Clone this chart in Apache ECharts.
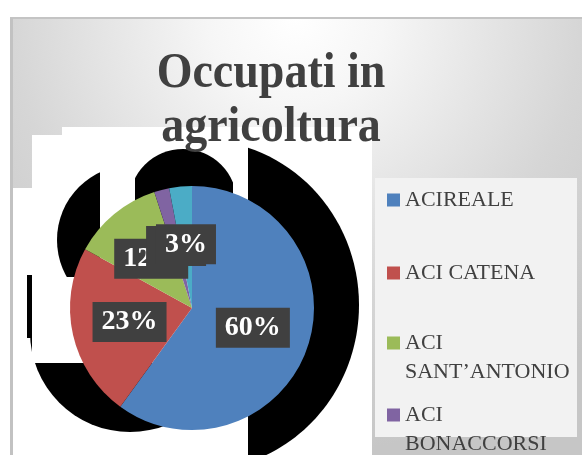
<!DOCTYPE html>
<html>
<head>
<meta charset="utf-8">
<script src="https://cdn.jsdelivr.net/npm/echarts@6/dist/echarts.min.js"></script>
<style>
  html, body { margin: 0; padding: 0; background: #fff; }
  #main { width: 582px; height: 455px; }
</style>
</head>
<body>
<div id="main"></div>
<script>
const categories = ['ACIREALE', 'ACI CATENA', 'ACI SANT’ANTONIO', 'ACI BONACCORSI', 'ACI CASTELLO'];
const shares = [60, 23, 12, 2, 3];
const colors = ['#4f81bd', '#c0504d', '#9bbb59', '#8064a2', '#4bacc6'];
// only the first four legend rows fit in the box
const legendNames = categories.slice(0, 4);
const legendTops = [185.5, 258.5, 299.5, 371.5];

const serif = 'Liberation Serif';

function rect(x, y, w, h, fill) {
  return { type: 'rect', silent: true, shape: { x: x, y: y, width: w, height: h }, style: { fill: fill } };
}
function circle(cx, cy, r) {
  return { type: 'circle', silent: true, shape: { cx: cx, cy: cy, r: r }, style: { fill: '#000' } };
}

var chartDom = document.getElementById('main');
var myChart = echarts.init(chartDom);

// long names wrap after the first word; a blank first line keeps the icon on "ACI"
var legends = legendNames.map(function (name, i) {
  return {
    data: [name],
    left: 387,
    top: legendTops[i],
    padding: 0,
    icon: 'rect',
    itemWidth: 13,
    itemHeight: 13,
    selectedMode: false,
    formatter: function (n) { return n.length > 12 ? '\u00a0\n' + n.replace(' ', '\n') : n; },
    textStyle: {
      fontFamily: serif,
      fontSize: 22,
      color: '#404040',
      lineHeight: 29
    }
  };
});

var option = {
  animation: false,
  color: colors,
  legend: legends,
  graphic: {
    elements: [
      {
        type: 'rect', silent: true,
        shape: { x: 10, y: 18, width: 572, height: 437 },
        style: {
          fill: new echarts.graphic.RadialGradient(0.5, 0, 1, [
            { offset: 0, color: '#ffffff' },
            { offset: 0.2, color: '#f6f6f6' },
            { offset: 0.65, color: '#d6d6d6' },
            { offset: 1, color: '#c6c6c6' }
          ])
        }
      },
      rect(10, 17, 572, 2, '#c4c4c4'),
      rect(10, 18, 3, 437, '#c2c2c2'),
      {
        type: 'polygon', silent: true,
        shape: { points: [[62, 127], [372, 127], [372, 455], [13, 455], [13, 188], [32, 188], [32, 135], [62, 135]] },
        style: { fill: '#fff' }
      },
      // broken black shadow behind the pie
      { type: 'ellipse', silent: true, shape: { cx: 200, cy: 305, rx: 159, ry: 165 }, style: { fill: '#000' } },
      rect(32, 135, 216, 320, '#fff'),
      circle(130, 332, 100),
      rect(32, 135, 216, 228, '#fff'),
      circle(132, 240, 75),
      rect(100, 135, 148, 228, '#fff'),
      rect(32, 277, 68, 86, '#fff'),
      circle(183, 203, 54),
      rect(100, 135, 35, 125, '#fff'),
      rect(233, 135, 15, 125, '#fff'),
      rect(27, 275, 5, 63, '#000'),
      // legend box
      rect(375, 178, 202, 259, '#f2f2f2'),
      {
        type: 'text', silent: true, z: 10,
        x: 271, y: 47, scaleY: 1.1,
        style: {
          text: 'Occupati in\nagricoltura',
          fontFamily: serif,
          fontWeight: 'bold',
          fontSize: 46,
          lineHeight: 49,
          fill: '#404040',
          align: 'center',
          verticalAlign: 'top'
        }
      }
    ]
  },
  series: [
    {
      type: 'pie',
      center: [192, 308],
      radius: 122,
      startAngle: 90,
      clockwise: true,
      percentPrecision: 0,
      avoidLabelOverlap: false,
      silent: true,
      itemStyle: { borderWidth: 0 },
      label: {
        show: true,
        position: 'inside',
        formatter: '{d}%',
        color: '#fff',
        fontFamily: serif,
        fontWeight: 'bold',
        fontSize: 28,
        backgroundColor: '#404040',
        padding: [7, 9, 5, 9]
      },
      labelLayout: { hideOverlap: false },
      labelLine: { show: false },
      data: categories.map(function (n, i) { return { name: n, value: shares[i] }; })
    }
  ]
};

myChart.setOption(option);
</script>
</body>
</html>
